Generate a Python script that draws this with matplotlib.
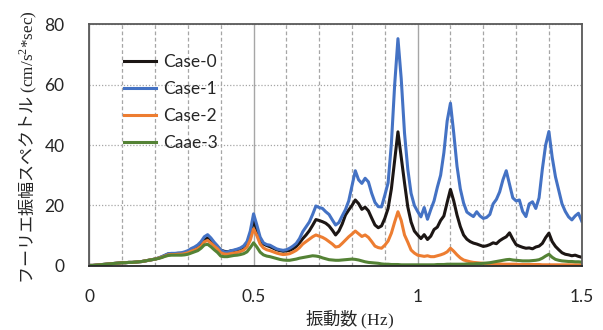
import numpy as np
import matplotlib
matplotlib.use("Agg")
import matplotlib.pyplot as plt
from matplotlib.ticker import MultipleLocator

plt.rcParams['font.family'] = ['Lato', 'Noto Sans CJK JP', 'DejaVu Sans']
plt.rcParams['mathtext.fontset'] = 'custom'
plt.rcParams['mathtext.rm'] = 'Liberation Serif'
plt.rcParams['mathtext.it'] = 'Liberation Serif:italic'

freq = np.round(np.arange(0, 151) * 0.01, 2)

case0 = [0.1,0.1,0.2,0.3,0.4,0.5,0.6,0.7,0.8,0.9,
         1.0,1.0,1.1,1.1,1.2,1.3,1.4,1.6,1.8,2.0,
         2.2,2.5,2.9,3.4,3.9,4.0,4.0,4.1,4.1,4.3,
         4.7,5.3,5.8,6.3,7.2,8.6,9.2,8.3,7.2,6.3,
         5.2,4.8,4.6,4.9,5.0,5.3,5.6,6.1,7.3,10.2,
         15.0,12.0,8.6,7.2,6.7,6.3,5.8,5.3,5.0,4.8,
         4.9,5.1,5.6,6.4,7.6,9.0,10.2,11.6,13.4,15.3,
         15.0,14.6,14.1,13.2,11.8,10.2,11.5,13.8,16.8,18.5,
         20.0,21.8,20.6,18.7,19.4,18.2,15.8,13.5,12.6,13.2,
         15.7,19.0,25.5,35.0,44.4,36.0,27.5,19.5,14.5,11.5,
         10.2,9.0,10.3,8.7,9.8,12.0,12.8,15.0,16.5,21.0,
         25.3,21.5,16.8,13.0,10.2,8.8,8.0,7.5,7.2,6.8,
         6.4,6.6,7.0,7.6,7.3,8.3,9.0,9.6,10.9,8.8,
         7.0,6.5,6.1,5.8,5.9,5.6,6.2,6.5,7.4,9.3,
         10.8,8.0,6.4,5.3,4.3,3.8,3.6,3.3,3.5,3.1,
         2.8]

case1 = [0.1,0.1,0.2,0.3,0.4,0.5,0.6,0.7,0.8,0.9,
         1.0,1.0,1.1,1.1,1.2,1.3,1.4,1.6,1.8,2.0,
         2.2,2.6,3.0,3.5,4.0,4.1,4.1,4.2,4.3,4.6,
         5.0,5.7,6.2,6.9,8.0,9.6,10.3,9.2,7.8,6.6,
         5.2,4.6,4.5,4.9,5.2,5.5,5.9,6.6,8.0,11.5,
         17.2,13.5,9.5,7.6,7.0,6.8,6.2,5.6,5.3,5.1,
         5.3,5.8,6.5,7.4,9.0,11.3,12.9,14.5,17.0,19.8,
         19.3,19.0,17.9,17.0,15.2,13.5,14.3,16.5,18.6,21.5,
         26.5,31.5,28.5,27.3,29.0,27.8,24.0,21.0,19.6,19.5,
         23.4,27.5,40.5,60.0,75.3,62.0,44.0,32.0,24.0,20.0,
         18.0,16.2,19.3,15.4,18.6,21.5,26.0,30.0,37.5,48.0,
         53.9,44.0,33.0,25.5,20.8,17.8,17.0,16.3,17.9,16.5,
         15.7,16.0,17.0,20.5,22.0,24.5,28.5,31.5,27.0,22.5,
         21.5,21.8,18.0,16.3,20.5,21.2,19.0,22.5,32.0,40.0,
         44.5,36.0,29.5,25.0,20.5,18.0,16.2,15.2,16.5,17.4,
         14.8]

case2 = [0.1,0.1,0.2,0.3,0.4,0.5,0.6,0.7,0.8,0.9,
         1.0,1.0,1.1,1.1,1.2,1.3,1.4,1.6,1.8,2.0,
         2.2,2.5,2.8,3.2,3.6,3.7,3.7,3.8,3.8,4.0,
         4.3,4.8,5.2,5.7,6.5,7.9,8.4,7.5,6.5,5.6,
         4.3,3.9,3.8,4.0,4.2,4.4,4.7,5.2,6.2,8.5,
         12.2,10.0,7.2,5.9,5.3,5.0,4.6,4.2,3.9,3.7,
         3.8,4.0,4.5,5.1,6.0,7.2,8.0,8.8,9.6,10.2,
         9.8,9.4,8.8,8.0,7.2,6.2,6.4,7.4,8.5,9.6,
         10.5,11.5,10.6,9.7,10.2,9.4,8.0,6.5,6.0,5.8,
         6.8,8.2,10.8,14.5,17.9,15.0,10.2,7.8,5.2,4.2,
         3.5,3.3,3.1,3.3,3.0,3.0,3.3,3.6,4.0,4.6,
         5.8,4.8,3.6,2.6,1.9,1.6,1.3,1.1,1.0,0.9,
         0.8,0.7,0.7,0.6,0.6,0.6,0.5,0.5,0.5,0.5,
         0.5,0.4,0.4,0.4,0.4,0.4,0.4,0.4,0.3,0.3,
         0.3,0.3,0.3,0.3,0.3,0.3,0.3,0.3,0.3,0.3,
         0.3]

case3 = [0.1,0.1,0.2,0.3,0.4,0.5,0.6,0.7,0.8,0.9,
         1.0,1.0,1.1,1.1,1.2,1.3,1.4,1.6,1.8,2.0,
         2.2,2.4,2.7,3.1,3.4,3.5,3.5,3.5,3.5,3.6,
         3.8,4.2,4.6,5.0,5.8,6.9,7.1,6.3,5.3,4.4,
         3.2,3.0,3.0,3.2,3.4,3.5,3.7,4.0,4.6,6.0,
         7.6,6.2,4.5,3.6,3.2,3.0,2.7,2.4,2.1,1.9,
         1.8,1.8,2.0,2.2,2.5,2.7,2.9,3.1,3.3,3.2,
         3.0,2.6,2.3,2.0,1.9,1.8,1.8,1.9,2.0,2.1,
         2.2,2.1,1.9,1.6,1.3,1.1,1.0,0.9,0.8,0.6,
         0.5,0.5,0.4,0.4,0.4,0.3,0.3,0.3,0.3,0.3,
         0.3,0.3,0.3,0.3,0.3,0.3,0.4,0.4,0.4,0.5,
         0.5,0.5,0.5,0.5,0.5,0.6,0.6,0.6,0.7,0.7,
         0.8,0.9,1.0,1.2,1.4,1.6,1.8,2.0,2.1,1.9,
         1.8,1.7,1.6,1.6,1.6,1.7,1.8,2.0,2.5,3.2,
         3.8,2.8,2.1,1.8,1.6,1.5,1.4,1.4,1.3,1.3,
         1.2]

labels = ['Case-0', 'Case-1', 'Case-2', 'Caae-3']
colors = ['#1c1614', '#4472C4', '#ED7D31', '#548235']
series = [case0, case1, case2, case3]

fig = plt.figure(figsize=(6.03, 3.30), dpi=100)
ax = fig.add_axes([0.1484, 0.1948, 0.9647 - 0.1484, 0.9258 - 0.1948])

ax.set_xlim(0, 1.5)
ax.set_ylim(0, 80)
ax.xaxis.set_major_locator(MultipleLocator(0.5))
ax.xaxis.set_minor_locator(MultipleLocator(0.1))
ax.yaxis.set_major_locator(MultipleLocator(20))

ax.grid(which='minor', axis='x', color='#a6a6a6', linestyle=(0, (3, 2)), linewidth=0.9)
ax.grid(which='major', axis='x', color='#a6a6a6', linestyle='-', linewidth=1.0)
ax.grid(which='major', axis='y', color='#a6a6a6', linestyle=(0, (1, 1.5)), linewidth=0.9)
ax.set_axisbelow(True)

for s, c, lab in zip(series, colors, labels):
    ax.plot(freq, s, color=c, linewidth=2.2, label=lab)

for sp in ax.spines.values():
    sp.set_color('#595959')
    sp.set_linewidth(1.3)
ax.spines['bottom'].set_color('#262626')

ax.tick_params(which='both', length=0)
ax.tick_params(axis='x', pad=17, labelsize=12.5, colors='#262626')
ax.tick_params(axis='y', pad=18, labelsize=12.5, colors='#262626')
ax.set_xticks([0, 0.5, 1.0, 1.5])
ax.set_xticklabels(['0', '0.5', '1', '1.5'])

ax.set_xlabel('振動数 $\\mathrm{(Hz)}$', fontsize=12.5, family=['Noto Sans CJK JP', 'DejaVu Sans'],
              color='#262626')
ax.xaxis.label.set_verticalalignment('center')
ax.xaxis.set_label_coords(0.529, -0.224)
ax.set_ylabel('フーリエ振幅スペクトル $\\mathrm{(cm/s^{2}{*}sec)}$', fontsize=12.3,
              family=['Noto Sans CJK JP', 'DejaVu Sans'], color='#262626')
ax.yaxis.label.set_verticalalignment('center')
ax.yaxis.set_label_coords(-0.125, 0.49)

leg = ax.legend(loc='upper left', bbox_to_anchor=(0.055, 0.905), frameon=False,
                fontsize=12.5, handlelength=1.9, handletextpad=0.4, labelspacing=0.62,
                borderaxespad=0)
for t in leg.get_texts():
    t.set_color('#262626')

fig.savefig('out.png', dpi=100)
